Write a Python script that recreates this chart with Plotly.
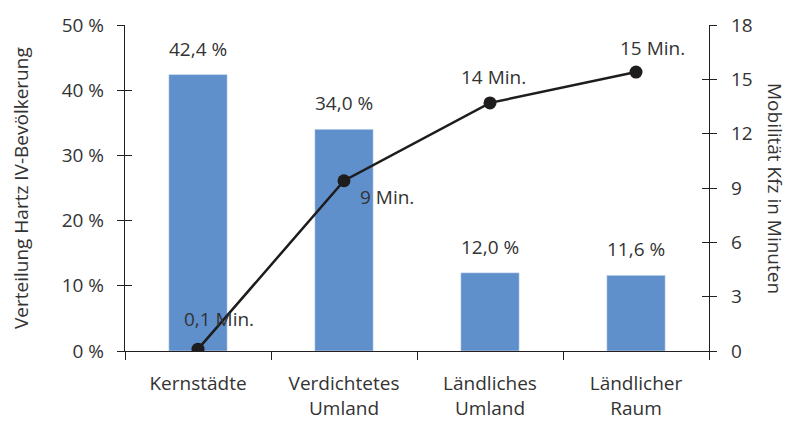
import plotly.graph_objects as go

categories = ["Kernstädte", "Verdichtetes<br>Umland", "Ländliches<br>Umland", "Ländlicher<br>Raum"]
share_pct = [42.4, 34.0, 12.0, 11.6]
share_labels = ["42,4 %", "34,0 %", "12,0 %", "11,6 %"]
minutes = [0.1, 9.4, 13.7, 15.4]
minute_labels = ["0,1 Min.", "9 Min.", "14 Min.", "15 Min."]
left_ticks = [0, 10, 20, 30, 40, 50]
left_ticktext = ["0 %", "10 %", "20 %", "30 %", "40 %", "50 %"]
right_ticks = [0, 3, 6, 9, 12, 15, 18]

FONT = "Open Sans"
FS = 19
TXT = "#333333"
BAR = "#6090CC"
LINE = "#1e1c1d"

fig = go.Figure()
fig.add_trace(go.Bar(x=categories, y=share_pct, marker_color=BAR, width=0.4,
                     yaxis="y", hoverinfo="skip"))
fig.add_trace(go.Scatter(x=categories, y=minutes, yaxis="y2", mode="lines+markers",
                         line=dict(color=LINE, width=2.5),
                         marker=dict(color=LINE, size=13), hoverinfo="skip"))

annotations = []
for c, v, t in zip(categories, share_pct, share_labels):
    annotations.append(dict(x=c, y=v, xref="x", yref="y", text=t, showarrow=False,
                            yanchor="middle", yshift=26,
                            font=dict(family=FONT, size=FS, color=TXT)))
offsets = [(21, 30), (43, -16), (3, 26), (16, 24)]
for c, v, t, (dx, dy) in zip(categories, minutes, minute_labels, offsets):
    annotations.append(dict(x=c, y=v, xref="x", yref="y2", text=t, showarrow=False,
                            xanchor="center", yanchor="middle", xshift=dx, yshift=dy,
                            font=dict(family=FONT, size=FS, color=TXT)))
annotations.append(dict(x=0, y=0.5, xref="paper", yref="paper", xanchor="center",
                        yanchor="middle", text="Verteilung Hartz IV-Bevölkerung",
                        textangle=-90, showarrow=False, xshift=-104,
                        font=dict(family=FONT, size=FS, color=TXT)))
annotations.append(dict(x=1, y=0.5, xref="paper", yref="paper", xanchor="center",
                        yanchor="middle", text="Mobilität Kfz in Minuten",
                        textangle=90, showarrow=False, xshift=66,
                        font=dict(family=FONT, size=FS, color=TXT)))

axis_common = dict(showgrid=False, zeroline=False, linecolor="#231f20", linewidth=1.3,
                   tickcolor="#231f20", tickwidth=1.3, automargin=False)

fig.update_layout(
    width=788, height=423,
    margin=dict(l=125, r=79, t=25, b=72),
    paper_bgcolor="white", plot_bgcolor="white",
    showlegend=False,
    font=dict(family=FONT, size=FS, color=TXT),
    xaxis=dict(**axis_common, showline=True, ticks="outside", ticklen=8,
               tickson="boundaries", range=[-0.5, 3.5], tickfont=dict(size=FS),
               ticklabelstandoff=15),
    yaxis=dict(**axis_common, showline=True, range=[0, 50], tickvals=left_ticks,
               ticktext=left_ticktext, ticks="outside", ticklen=7,
               ticklabelstandoff=9, tickfont=dict(size=FS)),
    yaxis2=dict(**axis_common, showline=True, overlaying="y", side="right",
                range=[0, 18], tickvals=right_ticks, ticks="outside", ticklen=7,
                ticklabelstandoff=10, tickfont=dict(size=FS), anchor="x"),
    yaxis3=dict(**axis_common, showline=False, overlaying="y", side="left", anchor="x",
                range=[0, 50], tickvals=left_ticks, ticks="inside", ticklen=7,
                showticklabels=False),
    yaxis4=dict(**axis_common, showline=False, overlaying="y", side="right", anchor="x",
                range=[0, 18], tickvals=right_ticks, ticks="inside", ticklen=7,
                showticklabels=False),
    annotations=annotations,
)
fig.add_trace(go.Scatter(x=[categories[0]], y=[None], yaxis="y3", showlegend=False, hoverinfo="skip"))
fig.add_trace(go.Scatter(x=[categories[0]], y=[None], yaxis="y4", showlegend=False, hoverinfo="skip"))

fig.write_html("out.html")
